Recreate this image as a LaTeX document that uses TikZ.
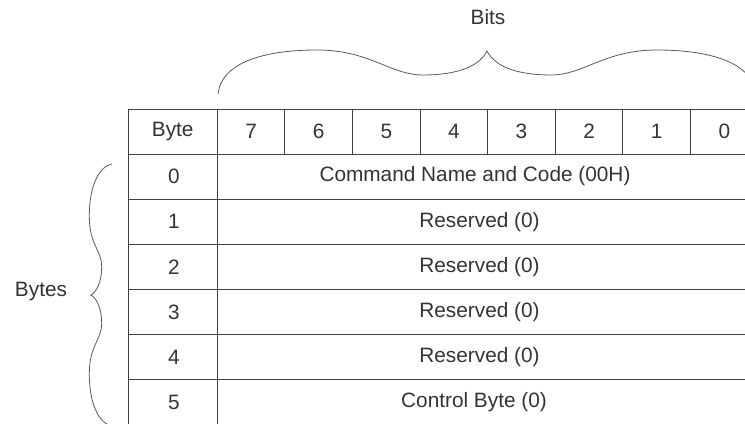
\documentclass[tikz,border=0pt]{standalone}
\usepackage{fontspec}
\setmainfont{Liberation Sans}
\usetikzlibrary{positioning}

\begin{document}
\begin{tikzpicture}[x=0.75pt,y=-0.75pt,font=\fontsize{15.6}{18}\selectfont,
  grid/.style={draw=black!75,line width=0.7pt},
  brace/.style={draw=black!65,line width=0.6pt},
  cell/.style={inner sep=0pt,anchor=center,text=black!80}]
\useasboundingbox (0,0) rectangle (745,424);
\clip (0,0) rectangle (745,424);
\draw[grid] (128,109) rectangle (756,470);
\draw[grid] (217.3,109) -- (217.3,470);
\foreach \y in {154,199,244.5,289.5,334.5,379.5}
  \draw[grid] (128,\y) -- (756,\y);
\foreach \i in {1,...,7}
  \draw[grid] (217.3+67.6*\i,109) -- (217.3+67.6*\i,154);
\node[cell] (byte) at (172.7,131.5) {Byte};
\foreach \i in {0,...,7}{
  \pgfmathtruncatemacro{\bit}{7-\i}
  \node[cell] (bit\bit) at (251.1+67.6*\i,131.5) {\bit};
}
\foreach \r/\y in {0/176.5,1/221.7,2/267,3/312,4/357,5/402}
  \node[cell] (row\r) at (174,\y) {\r};
\node[cell] (cmd) at (475,176.5) {Command Name and Code (00H)};
\node[cell] (res1) at (479.5,221.7) {Reserved (0)};
\node[cell] (res2) at (479.5,267) {Reserved (0)};
\node[cell] (res3) at (479.5,312) {Reserved (0)};
\node[cell] (res4) at (479.5,357) {Reserved (0)};
\node[cell] (ctrl) at (474,402) {Control Byte (0)};
\node[cell] (bits) at (488,17) {Bits};
\node[cell] (bytes) at (41,292) {Bytes};
\draw[brace] (218,94) .. controls (222,60) and (270,50) .. (317,50)
  .. controls (370,50) and (390,75) .. (423,75)
  .. controls (460,75) and (480,65) .. (487,51)
  .. controls (494,65) and (514,75) .. (551,75)
  .. controls (584,75) and (604,50) .. (657,50)
  .. controls (704,50) and (752,60) .. (756,94);
\draw[brace] (111.7,164) .. controls (95,168) and (89,195) .. (89.3,217)
  .. controls (89.5,245) and (101.7,250) .. (101.7,267)
  .. controls (101.7,282) and (96,293) .. (90.7,295)
  .. controls (96,297) and (101.7,308) .. (101.7,323)
  .. controls (101.7,340) and (89.5,345) .. (89.3,373)
  .. controls (89,395) and (95,422) .. (111.7,426);
\end{tikzpicture}
\end{document}
